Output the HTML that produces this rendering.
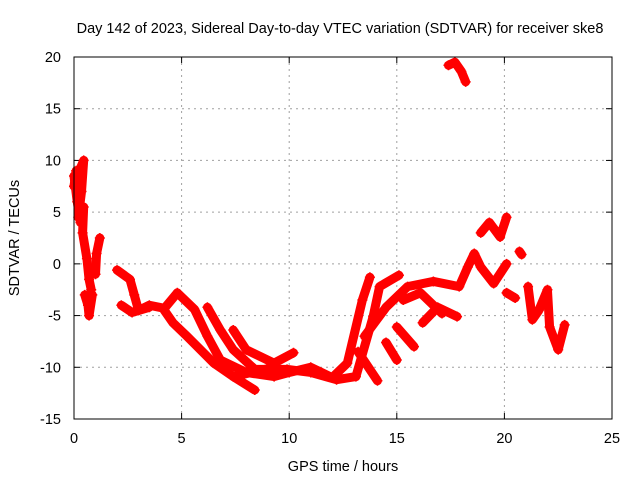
<!DOCTYPE html>
<html><head><meta charset="utf-8"><style>
body{margin:0;background:#fff}
svg{display:block;font-family:"Liberation Sans",sans-serif}
</style></head><body>
<svg id="chart" width="640" height="480">
<text x="340" y="33" text-anchor="middle" font-size="14.5">Day 142 of 2023, Sidereal Day-to-day VTEC variation (SDTVAR) for receiver ske8</text>
<text x="343" y="471" text-anchor="middle" font-size="14.5">GPS time / hours</text>
<text transform="translate(19,238) rotate(-90)" text-anchor="middle" font-size="14.5">SDTVAR / TECUs</text>
<g id="grid"></g>
<g id="ticks"></g>
<g id="marks"></g>
<rect x="74" y="57" width="538" height="362" fill="none" stroke="#000" stroke-width="1"/>
</svg>
<script>
const xTicks=[0,5,10,15,20,25];
const yTicks=[-15,-10,-5,0,5,10,15,20];
const trackA=[[0,7.5],[0.1,9],[0.25,9],[0.45,10],[0.35,7],[0.2,4.5],[0.45,5.5],[0.4,3],[0.6,0.5],[0.7,-1.5],[0.8,-2.5]];
const trackA2=[[0,8.5],[0.15,6],[0.3,4]];
const trackB=[[0.5,-3],[0.65,-4],[0.7,-5],[0.85,-3]];
const trackC=[[1.0,-1],[1.05,1],[1.2,2.5]];
const trackD=[[2.0,-0.6],[2.6,-1.5],[2.8,-3],[3.0,-4.5],[3.5,-4],[4.2,-4.3],[4.8,-2.8]];
const trackE=[[2.2,-4],[2.7,-4.7],[3.5,-4.2]];
const track1=[[4.2,-4.5],[4.6,-5.7],[5.25,-7],[6.5,-9.6],[7.4,-10.9],[9.3,-10]];
const track1b=[[7.4,-10.9],[8.4,-12.2]];
const track2=[[4.8,-2.8],[5.6,-4.4],[6.2,-7],[6.8,-9.3],[8.0,-10.5],[9.3,-10.9],[10,-10.5],[11,-10],[11.5,-10.5],[12,-11],[12.7,-9.6],[13.4,-3.5],[13.75,-1.3]];
const track3=[[6.2,-4.2],[6.8,-6.4],[7.4,-8.3],[8.4,-10.2],[9.9,-10.2],[11,-10.5],[12.2,-11.2],[13.1,-10.9],[13.9,-5.1],[14.2,-2.2],[15.1,-1.1]];
const track4=[[7.4,-6.4],[8.0,-8.3],[9.3,-9.6],[10.2,-8.6]];
const trackR3=[[13.2,-8.5],[14.1,-11.3]];
const trackR4=[[14.5,-7.6],[15.0,-9.3]];
const trackR5=[[15.0,-6.1],[15.8,-8.0]];
const trackU=[[13.5,-7],[14.5,-4.2],[15.5,-2.2],[16.7,-1.7],[17.9,-2.2],[18.3,-0.3],[18.6,1],[18.9,-0.3],[19.5,-1.9],[20.1,0]];
const trackU2=[[16.2,-5.7],[16.9,-4.2],[17.8,-5.1]];
const trackU3=[[15.3,-3.5],[16.1,-2.8],[17.1,-4.8]];
const trackH=[[18.9,3],[19.3,4],[19.8,2.6],[20.1,4.5]];
const trackP=[[20.7,1.2],[20.8,0.9]];
const trackQ=[[20.1,-2.8],[20.5,-3.3]];
const trackW=[[21.1,-2.2],[21.3,-5.4],[21.6,-4.5],[22,-2.5],[22.1,-6.1],[22.5,-8.3],[22.8,-5.9]];
const trackT=[[17.4,19.2],[17.7,19.5],[18.0,18.6],[18.2,17.6]];
const tracks=[trackA,trackA2,trackB,trackC,trackD,trackE,track1,track1b,track2,track3,track4,trackR3,trackR4,trackR5,trackU,trackU2,trackU3,trackH,trackP,trackQ,trackW,trackT];
const NS='http://www.w3.org/2000/svg';
const X0=74,X1=612,Y0=419,Y1=57;
function sx(t){return X0+(t-0)/(25-0)*(X1-X0);}
function sy(v){return Y0-(v+15)/(20+15)*(Y0-Y1);}
const grid=document.getElementById('grid'),ticks=document.getElementById('ticks'),marks=document.getElementById('marks');
function mk(tag,attrs,parent){const e=document.createElementNS(NS,tag);for(const k in attrs)e.setAttribute(k,attrs[k]);parent.appendChild(e);return e;}
xTicks.forEach(t=>{const x=sx(t);
 if(t>0&&t<25){const g=mk('line',{x1:x,x2:x,y1:Y1,y2:Y0,stroke:'#a0a0a0','stroke-dasharray':'2,4'},grid);
 
 }
 mk('line',{x1:x,x2:x,y1:Y0,y2:Y0-6,stroke:'#000'},ticks);mk('line',{x1:x,x2:x,y1:Y1,y2:Y1+6,stroke:'#000'},ticks);
 const l=mk('text',{x:x,y:443,'text-anchor':'middle','font-size':'14.5'},ticks);l.textContent=t;
 
 });
yTicks.forEach(v=>{const y=sy(v);
 if(v>-15&&v<20){const g=mk('line',{x1:X0,x2:X1,y1:y,y2:y,stroke:'#a0a0a0','stroke-dasharray':'2,4'},grid);
 
 }
 mk('line',{x1:X0,x2:X0+6,y1:y,y2:y,stroke:'#000'},ticks);mk('line',{x1:X1,x2:X1-6,y1:y,y2:y,stroke:'#000'},ticks);
 const l=mk('text',{x:61,y:y+5,'text-anchor':'end','font-size':'14.5'},ticks);l.textContent=v;
 
 });
tracks.forEach(tr=>{
 const p=mk('polyline',{points:tr.map(d=>sx(d[0])+','+sy(d[1])).join(' '),fill:'none',stroke:'#ff0000','stroke-width':'9','stroke-linejoin':'round','stroke-linecap':'round'},marks);
 
 
 tr.forEach(d=>{const x=sx(d[0]),y=sy(d[1]);
  const m=mk('path',{d:`M${x-5},${y}H${x+5}M${x},${y-5}V${y+5}`,stroke:'#ff0000','stroke-width':'1.5'},marks);
  
  });
});
</script>
</body></html>
